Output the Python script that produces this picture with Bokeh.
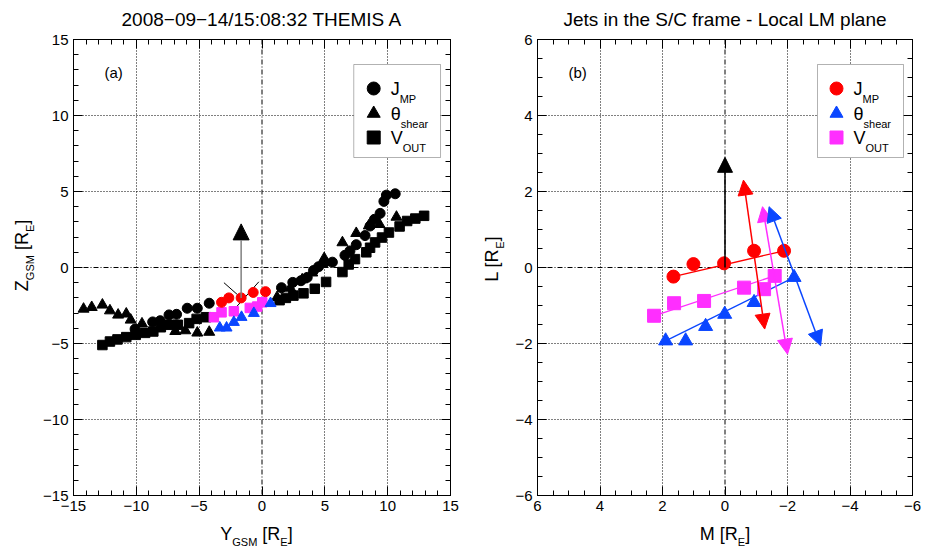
import math
from bokeh.plotting import figure
from bokeh.layouts import row, column
from bokeh.models import (Range1d, LinearAxis, SingleIntervalTicker, FixedTicker, Span, Label,
                          Arrow, NormalHead, BoxAnnotation, CustomJSTickFormatter)
from bokeh.embed import file_html
from bokeh.resources import INLINE

FONT = "Liberation Sans"

# ---------------- data: panel (a), GSM positions [RE] ----------------
jmp_y = [-10.1, -8.7, -8.1, -7.4, -6.8, -5.95, -5.15, -4.2, 1.55, 2.45, 3.1, 3.6, 4.1, 4.5, 5.0,
         5.6, 6.6, 7.0, 7.5, 8.2, 8.6, 8.95, 9.4, 9.7, 9.9, 10.6]
jmp_z = [-4.05, -3.58, -3.5, -3.12, -3.08, -2.68, -2.68, -2.35, -1.33, -0.98, -0.87, -0.65, -0.2,
         0.05, 0.33, 0.35, 0.8, 1.09, 1.5, 2.1, 2.73, 3.17, 3.56, 4.35, 4.76, 4.85]
theta_y = [-14.2, -13.55, -12.7, -12.1, -11.45, -10.8, -10.45, -9.55, -6.9, -6.1, -5.15, -4.2,
           1.2, 2.25, 3.2, 4.0, 4.95, 6.4, 7.5, 8.5, 9.35, 10.7]
theta_z = [-2.73, -2.62, -2.46, -2.84, -3.12, -3.05, -3.45, -3.7, -4.2, -4.15, -4.3, -4.25,
           -1.96, -1.35, -0.8, -0.35, 0.6, 1.64, 2.25, 2.75, 2.84, 3.32]
vout_y = [-12.7, -12.1, -11.5, -10.8, -10.05, -9.3, -8.65, -8.05, -7.4, -6.7, -5.8, -5.2, -4.45,
          1.4, 1.9, 2.5, 3.3, 4.2, 5.1, 6.4, 6.9, 7.4, 8.3, 8.6, 9.0, 9.55, 10.1, 10.95, 11.55,
          12.2, 12.9]
vout_z = [-5.1, -4.87, -4.73, -4.58, -4.43, -4.3, -4.21, -3.93, -3.77, -3.77, -3.66, -3.38, -3.27,
          -2.15, -2.0, -1.85, -1.7, -1.4, -0.95, -0.3, 0.2, 0.55, 1.0, 1.3, 1.65, 1.97, 2.3, 2.7,
          3.06, 3.22, 3.4]

sc_jmp_y = [-3.22, -2.64, -1.66, -0.7, 0.28]
sc_jmp_z = [-2.29, -2.0, -2.0, -1.64, -1.59]
sc_vout_y = [-3.83, -3.22, -2.24, -0.97, -0.38, 0.02]
sc_vout_z = [-3.27, -2.95, -2.88, -2.66, -2.57, -2.29]
sc_theta_y = [-3.36, -2.82, -2.24, -1.63, -0.65, 0.68]
sc_theta_z = [-3.97, -3.97, -3.6, -3.27, -3.01, -2.36]

normal_a = [-1.66, -2.0, -1.66, 2.87]           # x0, y0, x1, y1
tangent1_a = [-3.03, -1.0, -1.66, -2.0]
tangent2_a = [-2.37, -2.9, -0.25, -0.94]

# ---------------- data: panel (b), local LM plane [RE] ----------------
lm_jmp_m = [1.65, 1.01, 0.03, -0.93, -1.89]
lm_jmp_l = [-0.24, 0.09, 0.11, 0.44, 0.44]
lm_vout_m = [2.27, 1.63, 0.67, -0.61, -1.25, -1.59]
lm_vout_l = [-1.27, -0.94, -0.88, -0.53, -0.57, -0.22]
lm_theta_m = [1.9, 1.26, 0.62, 0.01, -0.93, -2.21]
lm_theta_l = [-1.93, -1.93, -1.55, -1.23, -0.92, -0.26]

normal_b = [0.0, 0.0, 0.0, 2.9]
jet_jmp = [-0.59, 2.3, -1.27, -1.62]
jet_vout = [-1.2, 1.6, -2.0, -2.28]
jet_theta = [-1.41, 1.6, -3.06, -2.06]

title_a = "2008\u221209\u221214/15:08:32 THEMIS A"
title_b = "Jets in the S/C frame - Local LM plane"

RED, BLUE, MAG = "#ff0000", "#0a46ff", "#ff2eff"

# ---------------- text helpers ----------------
CW = {' ': 0.278, '[': 0.278, ']': 0.278, '(': 0.333, ')': 0.333, 'A': 0.667, 'E': 0.667,
      'G': 0.778, 'J': 0.5, 'L': 0.556, 'M': 0.833, 'O': 0.778, 'P': 0.667, 'R': 0.722,
      'S': 0.667, 'T': 0.611, 'U': 0.722, 'V': 0.667, 'Y': 0.667, 'Z': 0.611, 'θ': 0.556,
      's': 0.5, 'h': 0.556, 'e': 0.556, 'a': 0.556, 'r': 0.333}
K = 0.33   # baseline correction (fraction of the font size)


def tw(t, s):
    return sum(CW.get(c, 0.556) for c in t) * s


def rich(p, x, y, parts, angle=0.0, center=True):
    total = sum(tw(t, s) for t, s, _ in parts)
    pos = -total / 2 if center else 0.0
    for t, s, down in parts:
        lead = len(t) - len(t.lstrip(" "))
        pos += tw(" " * lead, s)
        body = t.strip(" ")
        if angle == 0:
            xo, yo = pos, -down + K * s
        else:
            xo, yo = down - K * s, pos
        if body:
            p.add_layout(Label(x=x, y=y, text=body, x_offset=xo, y_offset=yo, angle=angle,
                               text_font=FONT, text_font_size=f"{s}px", text_color="black",
                               text_align="left", text_baseline="alphabetic", level="overlay"))
        pos += tw(t.lstrip(" "), s)


def plain(p, x, y, text, size, align="left"):
    p.add_layout(Label(x=x, y=y, text=text, y_offset=K * size, text_align=align,
                       text_baseline="alphabetic", text_font=FONT,
                       text_font_size=f"{size}px", text_color="black", level="overlay"))


def strip(w, h):
    """A text-only canvas whose frame is the whole canvas; data units = pixels (y downward)."""
    s = figure(width=w, height=h, x_range=Range1d(0, w), y_range=Range1d(h, 0),
               x_axis_type=None, y_axis_type=None, output_backend="svg", toolbar_location=None,
               min_border=0, min_border_left=0, min_border_right=0, min_border_top=0,
               min_border_bottom=0)
    s.outline_line_color = None
    s.grid.visible = False
    return s


def style(p, interval, nminor, gridticks):
    p.outline_line_color = "black"
    p.outline_line_width = 1
    p.add_layout(LinearAxis(), "above")
    p.add_layout(LinearAxis(), "right")
    for ax in p.axis:
        ax.ticker = SingleIntervalTicker(interval=interval, num_minor_ticks=nminor)
        ax.major_tick_in = 9
        ax.major_tick_out = 0
        ax.minor_tick_in = 5
        ax.minor_tick_out = 0
        ax.axis_line_color = "black"
        ax.major_tick_line_color = "black"
        ax.minor_tick_line_color = "black"
        ax.major_label_text_font = FONT
        ax.major_label_text_font_size = "15px"
        ax.major_label_text_color = "black"
    for ax in p.above + p.right:
        if isinstance(ax, LinearAxis):
            ax.formatter = CustomJSTickFormatter(code="return ''")
            ax.major_label_text_font_size = "0px"
            ax.major_label_standoff = 0
    p.xaxis[0].major_label_standoff = 8
    p.yaxis[0].major_label_standoff = 5
    p.xgrid.ticker = FixedTicker(ticks=gridticks)
    p.ygrid.ticker = FixedTicker(ticks=gridticks)
    p.grid.grid_line_color = "black"
    p.grid.grid_line_dash = "1 2"
    p.grid.grid_line_width = 1
    for dim in ("width", "height"):
        p.add_layout(Span(location=0, dimension=dim, line_color="black", line_width=1,
                          line_dash="5 2 1 2", level="underlay"))


def legend(p, fx, fy, box, sym_px, txt_px, rows, entries, msize):
    x0, y0, x1, y1 = box
    p.add_layout(BoxAnnotation(left=fx(x0), right=fx(x1), top=fy(y0), bottom=fy(y1),
                               fill_color="white", fill_alpha=1, line_color="black",
                               line_width=1))
    for rpx, (marker, color, main, sub) in zip(rows, entries):
        p.scatter(x=[fx(sym_px)], y=[fy(rpx)], marker=marker, size=msize, color=color,
                  level="overlay")
        rich(p, fx(txt_px), fy(rpx), [(main, 18, 6.7), (sub, 11, 14.4)], center=False)


TOP = 39        # page y of the frames' top edge
PAD = 9         # room above the frame for the top tick label
FH = 456        # frame height
BOT = 27        # room for the x tick labels
MID_H = PAD + FH + BOT
T_H = TOP - PAD
X_H = 550 - T_H - MID_H

# ---------------- panel (a) ----------------
Y1_W = 40
p1 = figure(width=473 - Y1_W, height=MID_H, x_range=Range1d(-15, 15), y_range=Range1d(-15, 15),
            output_backend="svg", toolbar_location=None, min_border_left=72 - Y1_W,
            min_border_right=23, min_border_top=PAD, min_border_bottom=BOT)
style(p1, 5, 5, [-10, -5, 5, 10])


def fx1(px):
    return -15 + (px - 72) / 378 * 30


def fy1(py):
    return 15 - (py - TOP) / FH * 30


p1.scatter(jmp_y, jmp_z, marker="circle", size=10, color="black")
p1.scatter(theta_y, theta_z, marker="triangle", size=11, color="black")
p1.scatter(vout_y, vout_z, marker="square", size=9.5, color="black")
for seg in (tangent1_a, tangent2_a):
    p1.line([seg[0], seg[2]], [seg[1], seg[3]], line_color="black", line_width=1)
p1.scatter(sc_vout_y, sc_vout_z, marker="square", size=9.5, color=MAG)
p1.scatter(sc_theta_y, sc_theta_z, marker="triangle", size=11, color=BLUE)
p1.scatter(sc_jmp_y, sc_jmp_z, marker="circle", size=10, color=RED)
p1.add_layout(Arrow(x_start=normal_a[0], y_start=normal_a[1], x_end=normal_a[2], y_end=normal_a[3],
                    line_color="#808080", line_width=1.5,
                    end=NormalHead(size=16, fill_color="black", line_color="black")))

legend(p1, fx1, fy1, (353, 64, 440, 157), 373, 390, (88, 113, 137),
       [("circle", "black", "J", "MP"), ("triangle", "black", "θ", "shear"),
        ("square", "black", "V", "OUT")], 13)
plain(p1, fx1(103), fy1(77), "(a)", 15)

# ---------------- panel (b) ----------------
X2 = 473
Y2_W = 36
p2 = figure(width=922 - X2 - Y2_W, height=MID_H, x_range=Range1d(6, -6), y_range=Range1d(-6, 6),
            output_backend="svg", toolbar_location=None, min_border_left=537 - X2 - Y2_W,
            min_border_right=10, min_border_top=PAD, min_border_bottom=BOT)
style(p2, 2, 4, [-4, -2, 2, 4])


def fx2(px):
    return 6 - (px - 537) / 375 * 12


def fy2(py):
    return 6 - (py - TOP) / FH * 12


for mm, ll, c in ((lm_jmp_m, lm_jmp_l, RED), (lm_vout_m, lm_vout_l, MAG),
                  (lm_theta_m, lm_theta_l, BLUE)):
    p2.line([mm[0], mm[-1]], [ll[0], ll[-1]], line_color=c, line_width=1.3)
p2.scatter(lm_jmp_m, lm_jmp_l, marker="circle", size=13, color=RED)
p2.scatter(lm_vout_m, lm_vout_l, marker="square", size=13, color=MAG)
p2.scatter(lm_theta_m, lm_theta_l, marker="triangle", size=14, color=BLUE)

p2.add_layout(Arrow(x_start=normal_b[0], y_start=normal_b[1], x_end=normal_b[2], y_end=normal_b[3],
                    line_color="black", line_width=1.5,
                    end=NormalHead(size=15, fill_color="black", line_color="black")))
for jet, c in ((jet_jmp, RED), (jet_vout, MAG), (jet_theta, BLUE)):
    p2.add_layout(Arrow(x_start=jet[0], y_start=jet[1], x_end=jet[2], y_end=jet[3],
                        line_color=c, line_width=1.5,
                        start=NormalHead(size=15, fill_color=c, line_color=c),
                        end=NormalHead(size=15, fill_color=c, line_color=c)))

legend(p2, fx2, fy2, (817, 64, 903, 157), 836, 853, (88, 113, 137),
       [("circle", RED, "J", "MP"), ("triangle", BLUE, "θ", "shear"),
        ("square", MAG, "V", "OUT")], 13)
plain(p2, fx2(568), fy2(77), "(b)", 15)

# ---------------- text strips around the panels ----------------
t1 = strip(X2, T_H)
plain(t1, 261.5, 25, title_a, 19, align="center")
t2 = strip(922 - X2, T_H)
plain(t2, 724.5 - X2, 25, title_b, 19, align="center")

y1 = strip(Y1_W, MID_H)
rich(y1, 27, 263 - T_H, [("Z", 18, 0), ("GSM", 11, 6), (" [R", 18, 0), ("E", 11, 6), ("]", 18, 0)],
     angle=math.pi / 2)
y2 = strip(Y2_W, MID_H)
rich(y2, 497 - X2, 267 - T_H, [("L [R", 18, 0), ("E", 11, 6), ("]", 18, 0)], angle=math.pi / 2)

XB = T_H + MID_H
x1 = strip(X2, X_H)
rich(x1, 256, 539 - XB, [("Y", 18, 0), ("GSM", 11, 6), (" [R", 18, 0), ("E", 11, 6),
                         ("]", 18, 0)])
x2 = strip(922 - X2, X_H)
rich(x2, 724.5 - X2, 539 - XB, [("M [R", 18, 0), ("E", 11, 6), ("]", 18, 0)])

layout = column(row(t1, t2), row(y1, p1, y2, p2), row(x1, x2))
open("out.html", "w").write(file_html(layout, INLINE))
